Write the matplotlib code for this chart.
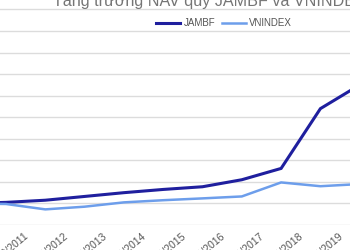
import matplotlib
matplotlib.use("Agg")
import matplotlib.pyplot as plt
from matplotlib.transforms import ScaledTranslation

plt.rcParams['font.family'] = ['Liberation Sans', 'DejaVu Sans']

years = ["31/12/2010", "31/12/2011", "31/12/2012", "31/12/2013", "31/12/2014",
         "31/12/2015", "31/12/2016", "31/12/2017", "31/12/2018", "31/12/2019",
         "31/12/2020"]
jambf = [100, 101, 103, 106.5, 110, 113, 115.5, 122, 132.5, 188, 210]
vnindex = [100, 99.5, 94.5, 97, 101, 103, 104.7, 106.5, 119.5, 116, 118]
yticks = [80, 100, 120, 140, 160, 180, 200, 220, 240, 260, 280]
title = "Tăng trưởng NAV quỹ JAMBF và VNINDEX"

fig = plt.figure(figsize=(3.5, 2.5), dpi=100)
ax = fig.add_axes([0, 0.1, 1, 0.9])
x = list(range(len(years)))
ax.plot(x, jambf, color="#1f1f9e", lw=2.2, label="JAMBF", solid_joinstyle="miter")
ax.plot(x, vnindex, color="#6d9eeb", lw=1.8, label="VNINDEX", solid_joinstyle="miter")

ax.set_yticks(yticks)
ax.set_yticklabels([])
ax.grid(axis="y", color="#dcdcdc", lw=1)
ax.set_axisbelow(True)
for s in ax.spines.values():
    s.set_visible(False)
ax.tick_params(axis="both", length=0)
ax.set_xticks(x)
ax.set_xticklabels(years, rotation=40, ha="right", va="top", rotation_mode="anchor",
                   fontsize=7.5, color="#555555")
ax.set_xlim(0.847, 9.753)
ax.set_ylim(80, 288.8)
off = ScaledTranslation(18 / 100, -1 / 100, fig.dpi_scale_trans)
for lab in ax.get_xticklabels():
    lab.set_transform(lab.get_transform() + off)

leg = ax.legend(loc="center", bbox_to_anchor=(0.64, 0.908), bbox_transform=fig.transFigure,
                ncol=2, frameon=False, fontsize=7, handlelength=2.5, handletextpad=0.3,
                columnspacing=0.7, labelcolor="#555555")

fig.text(53 / 350, 1 - 6 / 250, title, ha="left", va="baseline", fontsize=11.6,
         color="#757575")

fig.savefig("out.png", dpi=100)
